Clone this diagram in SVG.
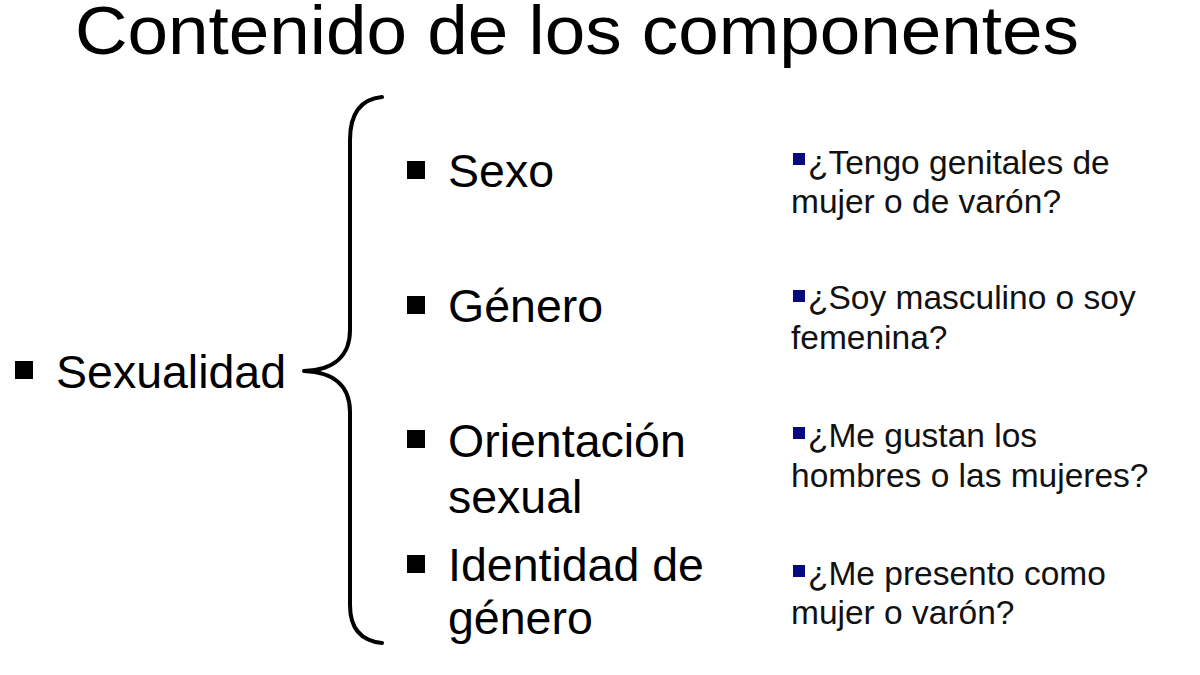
<svg xmlns="http://www.w3.org/2000/svg" width="1200" height="675" viewBox="0 0 1200 675">
  <style>
    text { font-family: "Liberation Sans", Arial, sans-serif; fill: #000; }
    .title { font-size: 69px; }
    .main { font-size: 46.5px; }
    .q { font-size: 33.5px; fill: #111; }
    .bk { fill: #000; }
    .bl { fill: #0a0a80; }
    .brace { fill: none; stroke: #000; stroke-width: 4; stroke-linecap: round; stroke-linejoin: round; }
  </style>
  <rect width="1200" height="675" fill="#fff"/>
  <g id="title">
    <text class="title" x="75" y="54" textLength="1004" lengthAdjust="spacingAndGlyphs">Contenido de los componentes</text>
  </g>
  <g id="connectors">
    <path class="brace" d="M382,97 C362,99 350,112 350,140 L350,330 C350,355 335,370 304,371 C335,372 350,387 350,412 L350,605 C350,630 362,641 382,643"/>
  </g>
  <g id="sexualidad">
    <rect class="bk" x="15" y="361" width="18" height="18"/>
    <text class="main" x="56" y="388">Sexualidad</text>
  </g>
  <g id="sexo">
    <rect class="bk" x="407" y="161" width="18" height="18"/>
    <text class="main" x="448" y="187">Sexo</text>
  </g>
  <g id="genero">
    <rect class="bk" x="407" y="296" width="18" height="18"/>
    <text class="main" x="448" y="322">Género</text>
  </g>
  <g id="orientacion">
    <rect class="bk" x="407" y="430" width="18" height="18"/>
    <text class="main" x="448" y="457">Orientación</text>
    <text class="main" x="448" y="513">sexual</text>
  </g>
  <g id="identidad">
    <rect class="bk" x="407" y="555" width="18" height="18"/>
    <text class="main" x="448" y="581">Identidad de</text>
    <text class="main" x="448" y="634">género</text>
  </g>
  <g id="q-sexo">
    <rect class="bl" x="793" y="153" width="12" height="12"/>
    <text class="q" x="808" y="174">¿Tengo genitales de</text>
    <text class="q" x="791" y="213">mujer o de varón?</text>
  </g>
  <g id="q-genero">
    <rect class="bl" x="793" y="290" width="12" height="12"/>
    <text class="q" x="808" y="309">¿Soy masculino o soy</text>
    <text class="q" x="791" y="349">femenina?</text>
  </g>
  <g id="q-orientacion">
    <rect class="bl" x="793" y="427" width="12" height="12"/>
    <text class="q" x="808" y="447">¿Me gustan los</text>
    <text class="q" x="791" y="487">hombres o las mujeres?</text>
  </g>
  <g id="q-identidad">
    <rect class="bl" x="793" y="565" width="12" height="12"/>
    <text class="q" x="808" y="585">¿Me presento como</text>
    <text class="q" x="791" y="624">mujer o varón?</text>
  </g>
</svg>
